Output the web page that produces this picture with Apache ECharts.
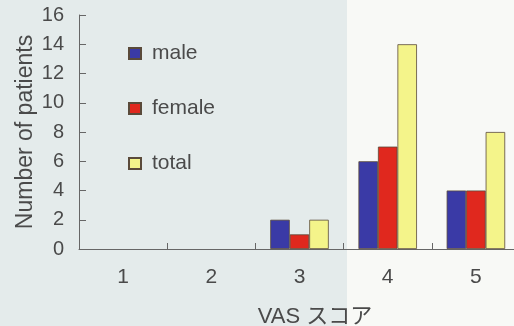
<!DOCTYPE html>
<html>
<head>
<meta charset="utf-8">
<script src="https://cdn.jsdelivr.net/npm/echarts@6/dist/echarts.min.js"></script>
<style>
  html, body { margin: 0; padding: 0; }
  #chart { width: 514px; height: 326px; }
</style>
</head>
<body>
<div id="chart"></div>
<script>
// VAS スコア 別の患者数
var categories = ['1', '2', '3', '4', '5'];
var maleData = [0, 0, 2, 6, 4];
var femaleData = [0, 0, 1, 7, 4];
var totalData = [0, 0, 2, 14, 8];
var yTicks = [0, 2, 4, 6, 8, 10, 12, 14, 16];

var fontFamily = '"Liberation Sans", Arial, "Noto Sans CJK JP", sans-serif';

var dom = document.getElementById('chart');
var myChart = echarts.init(dom);

function barSeries(name, data, color) {
    return {
        name: name,
        type: 'bar',
        barWidth: 19.5,
        barGap: '0%',
        itemStyle: {
            color: color,
            borderColor: '#5a4a3a',
            borderWidth: 0.8
        },
        data: data.map(function (v) { return v === 0 ? null : v; })
    };
}

myChart.setOption({
    backgroundColor: '#e4ebeb',
    textStyle: { fontFamily: fontFamily },
    // 右側のスキャンの明るい部分
    graphic: [{
        type: 'rect',
        z: -10,
        shape: { x: 347, y: 0, width: 167, height: 326 },
        style: { fill: '#f8f9f6' },
        silent: true
    }],
    legend: {
        orient: 'vertical',
        left: 128,
        top: 43,
        padding: 0,
        itemWidth: 12,
        itemHeight: 11,
        itemGap: 34,
        icon: 'rect',
        data: ['male', 'female', 'total'],
        textStyle: {
            color: '#4a4a4a',
            fontSize: 21,
            padding: [0, 0, 0, 6]
        }
    },
    grid: {
        left: 79,
        right: -6,
        top: 15,
        bottom: 77,
        outerBoundsMode: 'none'
    },
    xAxis: {
        type: 'category',
        data: categories,
        name: 'VAS スコア',
        nameLocation: 'middle',
        nameGap: 57,
        nameMoveOverlap: false,
        nameTextStyle: {
            color: '#4a4a4a',
            fontSize: 22,
            padding: [0, 0, 0, 31]
        },
        axisLine: { lineStyle: { color: '#666', width: 1 } },
        axisTick: { show: true, inside: true, length: 6, lineStyle: { color: '#666' } },
        axisLabel: { color: '#4a4a4a', fontSize: 21, margin: 18 }
    },
    yAxis: {
        type: 'value',
        min: 0,
        max: 16,
        interval: 2,
        name: 'Number of patients',
        nameLocation: 'middle',
        nameGap: 42,
        nameMoveOverlap: false,
        nameTextStyle: { color: '#4a4a4a', fontSize: 23 },
        splitLine: { show: false },
        axisLine: { show: true, lineStyle: { color: '#666', width: 1 } },
        axisTick: { show: true, inside: true, length: 7, lineStyle: { color: '#666' } },
        axisLabel: {
            color: '#4a4a4a',
            fontSize: 20,
            margin: 15,
            formatter: function (v) { return yTicks.indexOf(v) >= 0 ? v : ''; }
        }
    },
    series: [
        barSeries('male', maleData, '#3a3aa6'),
        barSeries('female', femaleData, '#e0281e'),
        barSeries('total', totalData, '#f4f48a')
    ]
});
window.addEventListener('resize', function () {
    myChart.resize();
});
</script>
</body>
</html>
